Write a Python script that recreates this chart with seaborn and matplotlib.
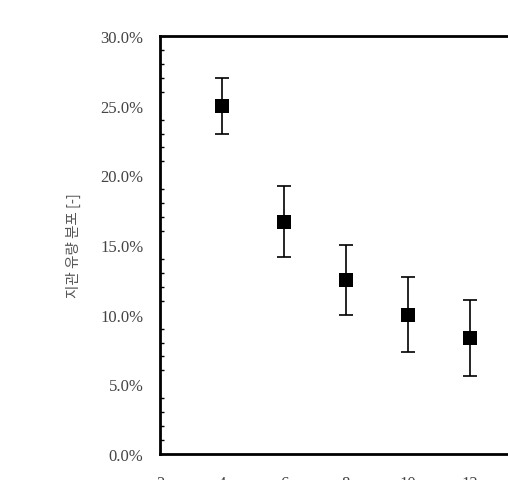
import numpy as np
import pandas as pd
import matplotlib
matplotlib.use("Agg")
import matplotlib.pyplot as plt
from matplotlib.ticker import MultipleLocator, PercentFormatter
import seaborn as sns

# 지관 개수별 유량 분포 (평균 및 오차)
n_branch = [4, 6, 8, 10, 12]
flow_share = [25.0, 16.67, 12.5, 10.0, 8.33]
flow_err = [2.0, 2.55, 2.5, 2.7, 2.7]

df = pd.DataFrame({"n": n_branch, "share": flow_share, "err": flow_err})

sns.set_style("white")
plt.rcParams["font.family"] = ["Liberation Serif", "DejaVu Serif"]

fig = plt.figure(figsize=(5.08, 4.81), dpi=100)
# 원본 그림은 오른쪽/아래가 잘려 있음 -> 축이 그림 밖으로 나가게 배치
ax = fig.add_axes([160 / 508, 26 / 481, 372 / 508, 418 / 481])

ax.errorbar(df["n"], df["share"], yerr=df["err"], fmt="none",
            ecolor="black", elinewidth=1.2, capsize=5, capthick=1.2, zorder=2)
sns.scatterplot(data=df, x="n", y="share", marker="s", s=100, color="black",
                edgecolor="black", linewidth=0, ax=ax, zorder=3)

ax.set_xlim(2, 14)
ax.set_ylim(0, 30)
ax.xaxis.set_major_locator(MultipleLocator(2))
ax.yaxis.set_major_locator(MultipleLocator(5))
ax.yaxis.set_minor_locator(MultipleLocator(1))
ax.yaxis.set_major_formatter(PercentFormatter(decimals=1))

ax.tick_params(axis="both", which="both", direction="in", colors="black",
               labelcolor="#444444", labelsize=12)
ax.tick_params(axis="x", which="major", length=5, width=1, pad=15, top=False)
ax.tick_params(axis="y", which="major", length=5, width=1, pad=12, right=False)
ax.tick_params(axis="y", which="minor", length=3, width=1, left=True, right=False)

for side in ["left", "bottom", "top", "right"]:
    ax.spines[side].set_color("black")
    ax.spines[side].set_linewidth(2)

ax.set_xlabel("")
ax.set_ylabel("지관 유량 분포 [-]", family=["Noto Sans CJK KR", "DejaVu Sans"],
              fontsize=10.5, color="#555555", labelpad=14)

fig.savefig("out.png", dpi=100)
